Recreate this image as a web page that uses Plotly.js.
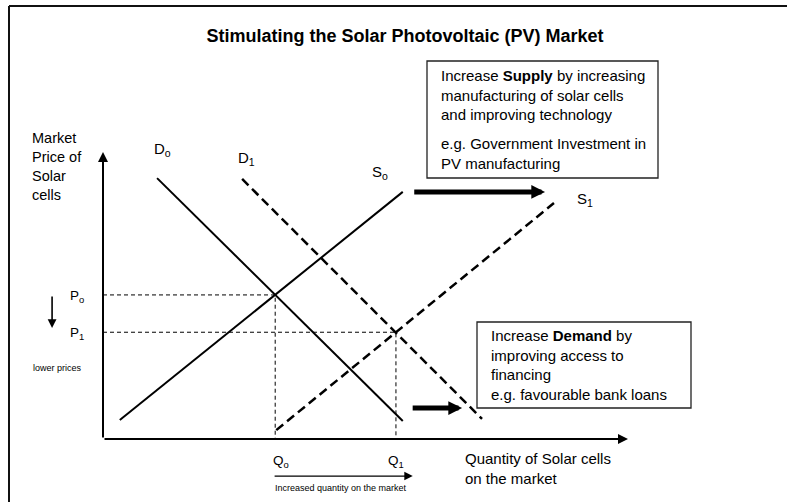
<!DOCTYPE html>
<html>
<head>
<meta charset="utf-8">
<script src="https://cdn.plot.ly/plotly-3.0.1.min.js"></script>
<style>html,body{margin:0;padding:0;background:#fff;}#chart{width:787px;height:502px;}</style>
</head>
<body>
<div id="chart"></div>
<script>
// Quantity (x) and price (y) in chart units: both axes run 0..100
const demand0Q = [10.3, 57.1];
const demand0P = [90.9, 6.3];
const demand1Q = [26.5, 72.2];
const demand1P = [90.6, 7.0];
const supply0Q = [3.2, 57.1];
const supply0P = [6.6, 86.1];
const supply1Q = [33.0, 85.9];
const supply1P = [3.1, 82.2];
const equilibriumQ = [32.8, 55.8];   // Q0, Q1
const equilibriumP = [50.2, 37.2];   // P0, P1
const curveLabels = ['D<sub>o</sub>', 'D<sub>1</sub>', 'S<sub>o</sub>', 'S<sub>1</sub>'];
const curveLabelQ = [11.4, 27.4, 52.8, 91.8];
const curveLabelP = [100.7, 97.6, 92.7, 83.6];
const priceLabels = ['P<sub>o</sub>', 'P<sub>1</sub>'];
const quantityLabels = ['Q<sub>o</sub>', 'Q<sub>1</sub>'];
const axisMax = [100, 100];
const supplyShiftQ = [59.0, 84.2], supplyShiftP = 86.1;
const demandShiftQ = [58.7, 68.4], demandShiftP = 10.8;
const priceDropP = [50.2, 38.7], priceDropQ = -9.7;
const quantityRiseQ = [32.4, 59.0], quantityRiseP = -12.9;

const titleText = '<b>Stimulating the Solar Photovoltaic (PV) Market</b>';
const yTitle = 'Market<br>Price of<br>Solar<br>cells';
const xTitle = 'Quantity of Solar cells<br>on the market';
const supplyBox1 = 'Increase <b>Supply</b> by increasing<br>manufacturing of solar cells<br>and improving technology';
const supplyBox2 = 'e.g. Government Investment in<br>PV manufacturing';
const demandBox = 'Increase <b>Demand</b> by<br>improving access to<br>financing<br>e.g. favourable bank loans';

const FONT = 'Liberation Sans, Arial, sans-serif';
const solid = {color: '#000', width: 2};
const dashed = {color: '#000', width: 2.5, dash: '9px,5px'};
const guide = {color: '#000', width: 1, dash: '4px,3px'};

const traces = [
  {x: demand0Q, y: demand0P, mode: 'lines', line: solid},
  {x: demand1Q, y: demand1P, mode: 'lines', line: dashed},
  {x: supply0Q, y: supply0P, mode: 'lines', line: solid},
  {x: supply1Q, y: supply1P, mode: 'lines', line: dashed},
  {x: [0, equilibriumQ[0], equilibriumQ[0]], y: [equilibriumP[0], equilibriumP[0], 0], mode: 'lines', line: guide},
  {x: [0, equilibriumQ[1], equilibriumQ[1]], y: [equilibriumP[1], equilibriumP[1], 0], mode: 'lines', line: guide}
].map(t => Object.assign(t, {hoverinfo: 'skip', showlegend: false, cliponaxis: false}));

function arrow(x, y, ax, ay, width, size) {
  return {x: x, y: y, ax: ax, ay: ay, xref: 'x', yref: 'y', axref: 'x', ayref: 'y',
    text: '', showarrow: true, arrowhead: 2, arrowwidth: width, arrowsize: size,
    arrowcolor: '#000', standoff: 0, startstandoff: 0};
}
function label(text, x, y, size, anchor, extra) {
  return Object.assign({x: x, y: y, xref: 'x', yref: 'y', text: text, showarrow: false,
    xanchor: anchor || 'center', yanchor: 'middle', align: 'left',
    font: {family: FONT, size: size, color: '#000'}}, extra || {});
}

const annotations = [
  // axes
  arrow(0, axisMax[1], 0, 0, 2, 1),
  arrow(axisMax[0], 0, 0, 0, 2, 1),
  // shift arrows
  arrow(supplyShiftQ[1], supplyShiftP, supplyShiftQ[0], supplyShiftP, 5, 0.55),
  arrow(demandShiftQ[1], demandShiftP, demandShiftQ[0], demandShiftP, 5, 0.55),
  arrow(priceDropQ, priceDropP[1], priceDropQ, priceDropP[0], 1.6, 1.1),
  arrow(quantityRiseQ[1], quantityRiseP, quantityRiseQ[0], quantityRiseP, 1.2, 1.4),
  // labels
  label(yTitle, -13.9, 95.1, 14.5, 'left'),
  label(xTitle, 68.6, -10.45, 15, 'left'),
  label('lower prices', -8.6, 24.7, 9, 'center'),
  label('Increased quantity on the market', 32.4, -17.1, 9, 'left'),
  label(priceLabels[0], -4.9, equilibriumP[0] - 0.5, 13.5),
  label(priceLabels[1], -4.9, equilibriumP[1] - 0.3, 13.5),
  label(quantityLabels[0], equilibriumQ[0] + 1.1, -7.7, 13.5),
  label(quantityLabels[1], equilibriumQ[1], -7.7, 13.5),
  // boxes text
  {x: 439 / 787, y: 1 - 95 / 502, xref: 'paper', yref: 'paper', text: supplyBox1, showarrow: false,
   xanchor: 'left', yanchor: 'middle', align: 'left', font: {family: FONT, size: 15, color: '#000'}},
  {x: 439 / 787, y: 1 - 154 / 502, xref: 'paper', yref: 'paper', text: supplyBox2, showarrow: false,
   xanchor: 'left', yanchor: 'middle', align: 'left', font: {family: FONT, size: 15, color: '#000'}},
  {x: 489 / 787, y: 1 - 364.5 / 502, xref: 'paper', yref: 'paper', text: demandBox, showarrow: false,
   xanchor: 'left', yanchor: 'middle', align: 'left', font: {family: FONT, size: 15, color: '#000'}}
];
curveLabels.forEach((t, i) => annotations.push(label(t, curveLabelQ[i], curveLabelP[i], 15)));

const shapes = [
  {type: 'line', xref: 'paper', yref: 'paper', x0: 9 / 787, x1: 1.01, y0: 1 - 6 / 502, y1: 1 - 6 / 502, line: {color: '#111', width: 2}},
  {type: 'line', xref: 'paper', yref: 'paper', x0: 9 / 787, x1: 9 / 787, y0: 1 - 6 / 502, y1: -0.01, line: {color: '#111', width: 2}},
  {type: 'rect', xref: 'paper', yref: 'paper', x0: 427 / 787, x1: 658 / 787, y0: 1 - 178 / 502, y1: 1 - 61 / 502, line: {color: '#222', width: 1.3}},
  {type: 'rect', xref: 'paper', yref: 'paper', x0: 477 / 787, x1: 691 / 787, y0: 1 - 408 / 502, y1: 1 - 322 / 502, line: {color: '#222', width: 1.3}}
];

const layout = {
  width: 787, height: 502, autosize: false,
  margin: {l: 0, r: 0, t: 0, b: 0, pad: 0},
  paper_bgcolor: '#fff', plot_bgcolor: '#fff',
  title: {text: titleText, font: {family: FONT, size: 18, color: '#000'},
          x: 405 / 787, y: 1 - 36 / 502, xanchor: 'center', yanchor: 'middle'},
  xaxis: {range: [-19.62, 130.29], visible: false, fixedrange: true},
  yaxis: {range: [-21.95, 152.96], visible: false, fixedrange: true},
  showlegend: false,
  annotations: annotations,
  shapes: shapes
};

Plotly.newPlot('chart', traces, layout, {staticPlot: true, displayModeBar: false});
</script>
</body>
</html>
